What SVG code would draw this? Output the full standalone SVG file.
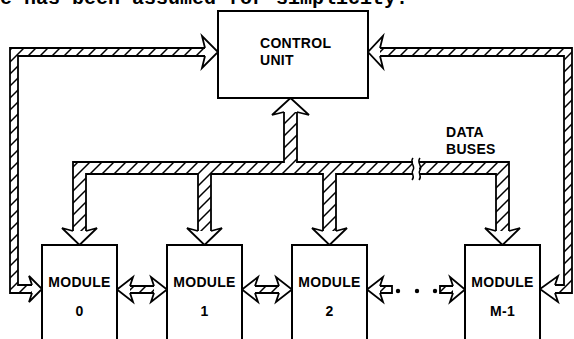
<svg xmlns="http://www.w3.org/2000/svg" width="574" height="339" viewBox="0 0 574 339">
<style>
.box{fill:#fff;stroke:#000;stroke-width:2}
.lbl{font-family:"Liberation Sans",Arial,sans-serif;font-weight:bold;font-size:14px;letter-spacing:0.3px;fill:#000}
.mid{text-anchor:middle}
.bus{fill:url(#hatch);stroke:#000;stroke-width:1.8;stroke-linejoin:miter}
.head{fill:#fff;stroke:#000;stroke-width:1.8;stroke-linejoin:miter}
.cap{font-family:"Liberation Mono","Courier New",monospace;font-weight:bold;font-size:20px;fill:#000}
</style>
<defs>
<pattern id="hatch" patternUnits="userSpaceOnUse" width="12" height="12">
<rect width="12" height="12" fill="#fff"/>
<path d="M0,12 L12,0 M-1,1 L1,-1 M11,13 L13,11" stroke="#000" stroke-width="1.5"/>
</pattern>
</defs>
<text class="cap" x="0" y="4">e has been assumed for simplicity.</text>
<g id="connectors">
<!-- left outer bus -->
<polygon class="bus" points="10,48 206,48 206,56 18,56 18,285 33,285 33,293 10,293"/>
<path class="head" d="M205,48 L202,36 L218,52 L202,68 L205,56"/>
<path class="head" d="M32,285 L29,276 L42,289 L29,302 L32,293"/>
<!-- right outer bus -->
<polygon class="bus" points="379,48 572,48 572,293 554,293 554,285 564,285 564,56 379,56"/>
<path class="head" d="M380,48 L383,36 L368,52 L383,68 L380,56"/>
<path class="head" d="M555,285 L558,276 L540,289 L558,302 L555,293"/>
<!-- data buses -->
<polygon class="bus" points="73,232 73,162 284,162 284,111 297,111 297,162 509,162 509,232 496,232 496,174 336,174 336,232 323,232 323,174 211,174 211,232 198,232 198,174 86,174 86,232"/>
<path class="head" d="M284,112 L272,115 L290.5,98 L309,115 L297,112"/>
<path class="head" d="M73,231 L62,228 L79.5,245 L97,228 L86,231"/>
<path class="head" d="M198,231 L187,228 L204.5,245 L222,228 L211,231"/>
<path class="head" d="M323,231 L312,228 L329.5,245 L347,228 L336,231"/>
<path class="head" d="M496,231 L485,228 L502.5,245 L520,228 L509,231"/>
<!-- break mark -->
<rect x="413" y="161" width="6" height="15" fill="#fff"/>
<path d="M413,158 C409,163 416,166 413,170 C410,174 416,176 412,180 M420,158 C416,163 423,166 420,170 C417,174 423,176 419,180" fill="none" stroke="#000" stroke-width="1.5"/>
<text class="lbl" x="446" y="137">DATA</text>
<text class="lbl" x="446" y="154">BUSES</text>
<!-- module to module links -->
<polygon class="bus" points="129,286 155,286 155,293 129,293"/>
<path class="head" d="M130,286 L133,277 L117,289.5 L133,302 L130,293"/>
<path class="head" d="M154,286 L151,277 L167,289.5 L151,302 L154,293"/>
<polygon class="bus" points="254,286 280,286 280,293 254,293"/>
<path class="head" d="M255,286 L258,277 L242,289.5 L258,302 L255,293"/>
<path class="head" d="M279,286 L276,277 L292,289.5 L276,302 L279,293"/>
<polygon class="bus" points="379,286 392,286 392,293 379,293"/>
<path class="head" d="M380,286 L383,277 L367,289.5 L383,302 L380,293"/>
<circle cx="398" cy="291" r="2.2"/>
<circle cx="417" cy="291" r="2.2"/>
<circle cx="435" cy="291" r="2.2"/>
<polygon class="bus" points="440,286 454,286 454,293 440,293"/>
<path class="head" d="M453,286 L450,277 L465,289.5 L450,302 L453,293"/>
</g>
<g id="control-unit">
<rect class="box" x="218" y="11" width="150" height="87"/>
<text class="lbl" x="260" y="48">CONTROL</text>
<text class="lbl" x="260" y="65">UNIT</text>
</g>
<g id="module-0">
<rect class="box" x="42" y="245" width="75" height="100"/>
<text class="lbl mid" x="79.5" y="287">MODULE</text>
<text class="lbl mid" x="79.5" y="316">0</text>
</g>
<g id="module-1">
<rect class="box" x="167" y="245" width="75" height="100"/>
<text class="lbl mid" x="204.5" y="287">MODULE</text>
<text class="lbl mid" x="204.5" y="316">1</text>
</g>
<g id="module-2">
<rect class="box" x="292" y="245" width="75" height="100"/>
<text class="lbl mid" x="329.5" y="287">MODULE</text>
<text class="lbl mid" x="329.5" y="316">2</text>
</g>
<g id="module-m-1">
<rect class="box" x="465" y="245" width="75" height="100"/>
<text class="lbl mid" x="502.5" y="287">MODULE</text>
<text class="lbl mid" x="502.5" y="316">M-1</text>
</g>
</svg>
